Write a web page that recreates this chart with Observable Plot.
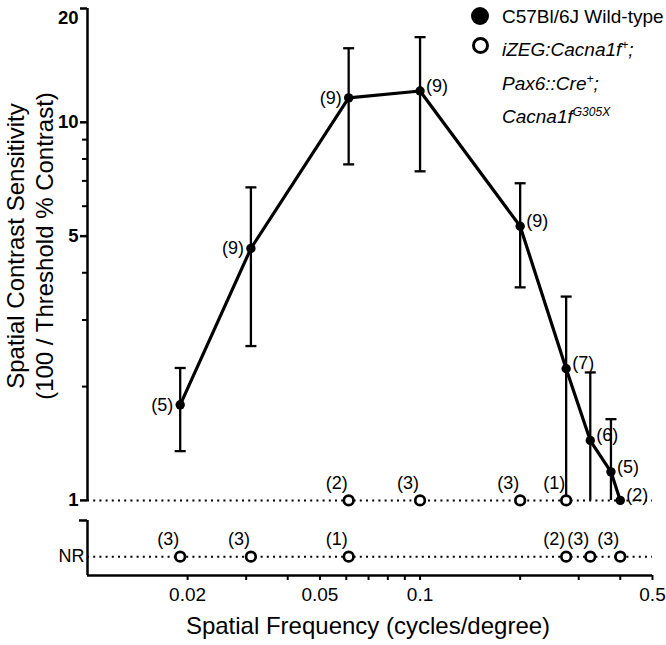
<!DOCTYPE html>
<html><head><meta charset="utf-8">
<script src="https://cdn.jsdelivr.net/npm/d3@7"></script>
<script src="https://cdn.jsdelivr.net/npm/@observablehq/plot@0.6"></script>
<style>
body{margin:0;background:#fff;font-family:"Liberation Sans",Arial,sans-serif;}
#wrap{position:relative;width:666px;height:645px;}
#legend{position:absolute;left:470px;top:3px;font-size:19px;line-height:28px;color:#000;}
#legend .row{position:relative;padding-left:32px;white-space:nowrap;}
#legend .sym{position:absolute;left:1px;top:4px;width:18px;height:18px;border-radius:50%;box-sizing:border-box;}
#legend .filled{background:#000;}
#legend .open{border:3px solid #000;width:17px;height:17px;left:2px;top:6px;}
#legend i sup{font-size:12px;}
</style></head><body><div id="wrap"><div id="legend"></div></div>
<script>
// ---- data ----
const freqWT  = [0.019, 0.031, 0.061, 0.1, 0.2, 0.275, 0.325, 0.375, 0.4];
const meanWT  = [1.79, 4.64, 11.6, 12.1, 5.31, 2.23, 1.44, 1.19, 1.0];
const upperWT = [2.24, 6.73, 15.7, 16.8, 6.9, 3.46, 2.18, 1.64, null];
const lowerWT = [1.35, 2.56, 7.74, 7.42, 3.66, 1.0, 1.0, 1.0, null];
const nWT     = [5, 9, 9, 9, 9, 7, 6, 5, 2];
const freqMutResp = [0.061, 0.1, 0.2, 0.275];   // responding at sensitivity 1
const nMutResp    = [2, 3, 3, 1];
const freqMutNR   = [0.019, 0.031, 0.061, 0.275, 0.325, 0.4]; // no response
const nMutNR      = [3, 3, 1, 2, 3, 3];
const yTicksMajor = [1, 5, 10, 20];
const yTicksMinor = [2, 3, 4, 6, 7, 8, 9];
const xTicksMajor = [0.02, 0.05, 0.1, 0.5];
const xTicksMinor = [0.03, 0.04, 0.06, 0.07, 0.08, 0.09, 0.2, 0.3, 0.4];
const legendWT  = "C57Bl/6J Wild-type";
const legendMut = "<i>iZEG:Cacna1f<sup>+</sup>;</i><br><i>Pax6::Cre<sup>+</sup>;</i><br><i>Cacna1f<sup>G305X</sup></i>";
const xTitle = "Spatial Frequency (cycles/degree)";
const yTitle1 = "Spatial Contrast Sensitivity";
const yTitle2 = "(100 / Threshold % Contrast)";

// broken-axis scale constants (NR band below sensitivity 1)
const Y_MIN = 0.633, NR = 0.71, BREAK = 0.885, X_MIN = 0.01, X_MAX = 0.5, Y_MAX = 20;

const wt = freqWT.map((f, i) => ({f, m: meanWT[i], hi: upperWT[i], lo: lowerWT[i], n: nWT[i], i}));
const bars = wt.filter(d => d.hi != null);
const mutResp = freqMutResp.map((f, i) => ({f, y: 1, n: nMutResp[i]}));
const mutNR = freqMutNR.map((f, i) => ({f, y: NR, n: nMutNR[i]}));
const capSym = {draw(ctx, size) { const w = Math.sqrt(size / Math.PI); ctx.moveTo(-w, 0); ctx.lineTo(w, 0); }};
const font = '"Liberation Sans", Arial, sans-serif';

const chart = Plot.plot({
  width: 666, height: 645,
  marginTop: 8, marginBottom: 70, marginLeft: 87, marginRight: 14,
  x: {type: "log", domain: [X_MIN, X_MAX], label: null},
  y: {type: "log", domain: [Y_MIN, Y_MAX], label: null},
  style: {fontFamily: font, background: "white", color: "black", overflow: "visible"},
  marks: [
    Plot.ruleY([1], {strokeDasharray: "2,4.2", strokeWidth: 2}),
    Plot.ruleY([NR], {strokeDasharray: "2,4.2", strokeWidth: 2}),
    Plot.ruleX(bars, {x: "f", y1: "lo", y2: "hi", strokeWidth: 2.3}),
    Plot.dot(bars, {x: "f", y: "hi", symbol: capSym, r: 5.5, stroke: "black", strokeWidth: 2.3}),
    Plot.dot(bars.filter(d => d.lo > 1), {x: "f", y: "lo", symbol: capSym, r: 5.5, stroke: "black", strokeWidth: 2.3}),
    Plot.line(wt, {x: "f", y: "m", strokeWidth: 3.2}),
    Plot.dot(wt, {x: "f", y: "m", r: 4.7, fill: "black"}),
    Plot.dot(mutResp, {x: "f", y: "y", r: 4.8, fill: "white", stroke: "black", strokeWidth: 2.7}),
    Plot.dot(mutNR, {x: "f", y: "y", r: 4.8, fill: "white", stroke: "black", strokeWidth: 2.7}),
    Plot.text(wt.filter(d => d.i < 3), {x: "f", y: "m", text: d => `(${d.n})`, textAnchor: "end", dx: -7, fontSize: 18}),
    Plot.text(wt.filter(d => d.i >= 3), {x: "f", y: "m", text: d => `(${d.n})`, textAnchor: "start", dx: 6, dy: -5, fontSize: 18}),
    Plot.text(mutResp, {x: "f", y: "y", text: d => `(${d.n})`, dx: -12, dy: -17, fontSize: 18}),
    Plot.text(mutNR, {x: "f", y: "y", text: d => `(${d.n})`, dx: -12, dy: -17, fontSize: 18}),
    // axis lines
    Plot.ruleX([X_MIN], {y1: 1, y2: Y_MAX, strokeWidth: 2.5}),
    Plot.ruleX([X_MIN], {y1: Y_MIN, y2: BREAK, strokeWidth: 2.5}),
    Plot.ruleY([Y_MIN], {strokeWidth: 2.5}),
    // axes
    Plot.axisY({ticks: yTicksMajor, tickFormat: d => String(d), tickSize: 7, tickPadding: 2, fontSize: 18.5, fontWeight: "bold", strokeWidth: 2.5, label: null, textStroke: null}),
    Plot.axisY({ticks: yTicksMinor, tickFormat: () => "", tickSize: 5, strokeWidth: 2, label: null}),
    Plot.axisY({ticks: [BREAK], tickFormat: () => "", tickSize: 8, strokeWidth: 2.5, label: null}),
    Plot.axisY({ticks: [NR], tickFormat: () => "NR", tickSize: 0, tickPadding: 3, fontSize: 18, label: null}),
    Plot.axisX({ticks: xTicksMajor, tickFormat: d => String(d), tickSize: 5, tickPadding: 7, fontSize: 19, strokeWidth: 2, label: null}),
    Plot.axisX({ticks: xTicksMinor, tickFormat: () => "", tickSize: 5, strokeWidth: 2, label: null})
  ]
});

const svg = d3.select(chart);
// keep the topmost tick label ("20") fully inside the picture
svg.selectAll("text").filter(function() { return this.textContent === "20"; }).attr("dy", "0.5em");
svg.append("text").attr("x", 368).attr("y", 634).attr("text-anchor", "middle")
  .attr("font-size", 24).attr("font-family", font).attr("fill", "black").text(xTitle);
svg.append("text").attr("transform", "translate(24,246) rotate(-90)").attr("text-anchor", "middle")
  .attr("font-size", 24).attr("font-family", font).attr("fill", "black").text(yTitle1);
svg.append("text").attr("transform", "translate(53,246) rotate(-90)").attr("text-anchor", "middle")
  .attr("font-size", 24).attr("font-family", font).attr("fill", "black").text(yTitle2);

document.getElementById("wrap").prepend(chart);
document.getElementById("legend").innerHTML =
  `<div class="row"><span class="sym filled"></span>${legendWT}</div>` +
  `<div class="row"><span class="sym open"></span>${legendMut}</div>`;
</script>
</body></html>
